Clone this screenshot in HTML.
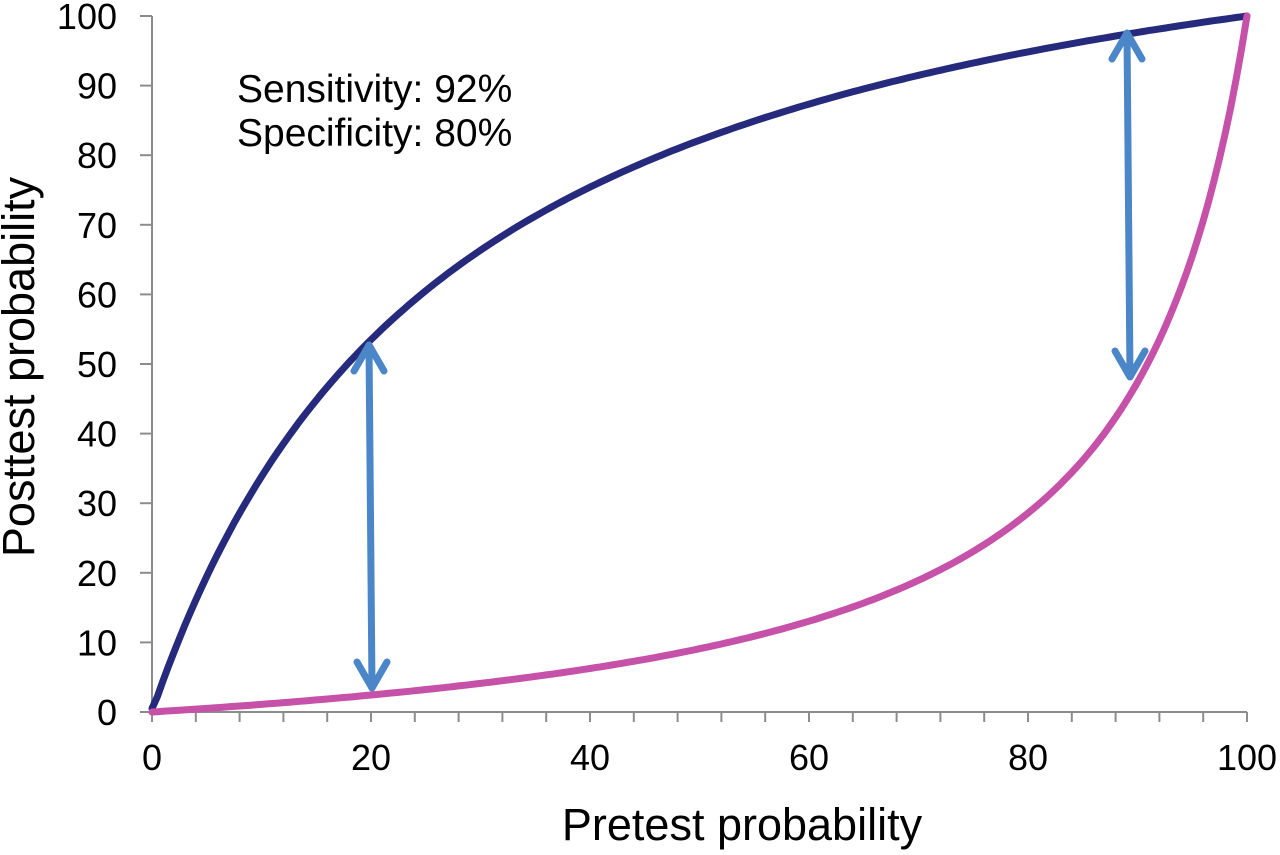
<!DOCTYPE html>
<html><head><style>
html,body{margin:0;padding:0;background:#fff;}
svg text{font-family:"Liberation Sans",Arial,sans-serif;fill:#000;}
</style></head><body>
<svg id="s" width="1280" height="850" viewBox="0 0 1280 850" xmlns="http://www.w3.org/2000/svg">
<g stroke="#8c8c8c" stroke-width="2" fill="none">
<line x1="152" y1="16" x2="152" y2="712"/>
<line x1="152" y1="712" x2="1247" y2="712"/>
<g id="ticks"></g>
</g>
<g font-size="36" text-anchor="end" id="ylab"></g>
<g font-size="36" text-anchor="middle" id="xlab"></g>
<path id="pos" fill="none" stroke="#262a7c" stroke-width="7" stroke-linejoin="round" stroke-linecap="round"/>
<path id="neg" fill="none" stroke="#c651a8" stroke-width="7" stroke-linejoin="round" stroke-linecap="round"/>
<g stroke="#4a86c8" stroke-width="7" fill="none" stroke-linecap="round" stroke-linejoin="round">
<line x1="369" y1="346" x2="372" y2="688"/>
<polyline points="354,371 369,345 384,371"/>
<polyline points="357,662 372,688 387,662"/>
<line x1="1127" y1="34" x2="1130" y2="376"/>
<polyline points="1112,59 1127,33 1142,59"/>
<polyline points="1115,351 1130,377 1145,351"/>
</g>
<text x="237" y="102" font-size="39">Sensitivity: 92%</text>
<text x="237" y="146" font-size="39">Specificity: 80%</text>
<text x="742" y="840" font-size="45" text-anchor="middle">Pretest probability</text>
<text transform="translate(34,367) rotate(-90)" font-size="45" text-anchor="middle">Posttest probability</text>
</svg>
<script>
var X=function(p){return 152+p*10.95},Y=function(v){return 712-v*6.96};
var t='',yl='',xl='';
for(var i=0;i<=10;i++){t+='<line x1="140" y1="'+Y(i*10)+'" x2="152" y2="'+Y(i*10)+'"/>';yl+='<text x="117" y="'+(Y(i*10)+13)+'">'+(i*10)+'</text>';}
for(var i=0;i<=25;i++){t+='<line x1="'+X(i*4)+'" y1="712" x2="'+X(i*4)+'" y2="722"/>';}
for(var i=0;i<=5;i++){xl+='<text x="'+X(i*20)+'" y="770">'+(i*20)+'</text>';}
document.getElementById('ticks').innerHTML=t;
document.getElementById('ylab').innerHTML=yl;
document.getElementById('xlab').innerHTML=xl;
var a='',b='';
for(var i=0;i<=200;i++){var p=i/200;
var pp=0.92*p/(0.92*p+0.2*(1-p));var np=0.08*p/(0.08*p+0.8*(1-p));
if(i==0){pp=0.005;np=0;}
a+=(i?'L':'M')+X(p*100).toFixed(1)+','+Y(pp*100).toFixed(1);
b+=(i?'L':'M')+X(p*100).toFixed(1)+','+Y(np*100).toFixed(1);}
document.getElementById('pos').setAttribute('d',a);
document.getElementById('neg').setAttribute('d',b);
</script>
</body></html>
